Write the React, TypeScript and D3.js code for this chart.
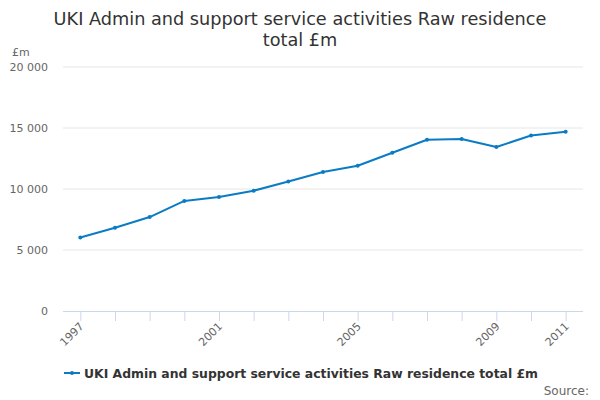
import * as d3 from "d3";

const years = [1997, 1998, 1999, 2000, 2001, 2002, 2003, 2004, 2005, 2006, 2007, 2008, 2009, 2010, 2011];
const values = [6030, 6830, 7700, 9020, 9340, 9860, 10620, 11390, 11910, 12970, 14040, 14100, 13440, 14390, 14700];
const yTicks = [0, 5000, 10000, 15000, 20000];
const labelYears = [1997, 2001, 2005, 2009, 2011];

const seriesName = "UKI Admin and support service activities Raw residence total £m";
const titleLines = ["UKI Admin and support service activities Raw residence", "total £m"];

export default function App() {
  const width = 600;
  const height = 400;
  const left = 63;
  const right = 583;
  const top = 67;
  const bottom = 311;
  const color = "#0b7bc4";
  const font = "'DejaVu Sans', sans-serif";

  const x = d3.scalePoint<number>().domain(years).range([left, right]).padding(0.5);
  const y = d3.scaleLinear().domain([0, 20000]).range([bottom, top]);
  const fmt = (v: number) => d3.format(",")(v).replace(/,/g, " ");

  const line = d3
    .line<number>()
    .x((_, i) => x(years[i]) as number)
    .y((d) => y(d));

  return (
    <svg width={width} height={height} style={{ display: "block", position: "absolute", left: 0, top: 0 }} fontFamily={font}>
      <rect width={width} height={height} fill="#fff" />
      <text x={300} textAnchor="middle" fontSize={17.7} fill="#333">
        <tspan x={300} y={25}>{titleLines[0]}</tspan>
        <tspan x={300} y={46}>{titleLines[1]}</tspan>
      </text>
      <text x={12} y={56} fontSize={11} fill="#666">£m</text>

      {yTicks.map((t) => (
        <g key={t}>
          {t > 0 && <line x1={left} x2={right} y1={y(t)} y2={y(t)} stroke="#e6e6e6" />}
          <text x={48} y={y(t) + 4} textAnchor="end" fontSize={11} fill="#666">
            {fmt(t)}
          </text>
        </g>
      ))}

      <line x1={left} x2={right} y1={bottom + 0.5} y2={bottom + 0.5} stroke="#ccd6eb" />
      {years.map((yr) => (
        <line key={yr} x1={(x(yr) as number) + 0.5} x2={(x(yr) as number) + 0.5} y1={bottom} y2={bottom + 10} stroke="#ccd6eb" />
      ))}
      {labelYears.map((yr) => (
        <text
          key={yr}
          transform={`translate(${(x(yr) as number) + 4},${bottom + 16}) rotate(-45)`}
          textAnchor="end"
          fontSize={11}
          fill="#666"
        >
          {yr}
        </text>
      ))}

      <path d={line(values) || ""} fill="none" stroke={color} strokeWidth={2} strokeLinejoin="round" />
      {values.map((v, i) => (
        <circle key={i} cx={x(years[i]) as number} cy={y(v)} r={2} fill={color} />
      ))}

      <line x1={64} x2={80} y1={373} y2={373} stroke={color} strokeWidth={2} />
      <circle cx={72} cy={373} r={2} fill={color} />
      <text x={84} y={378} fontSize={12.4} fontWeight="bold" fill="#333">{seriesName}</text>
      <text x={589} y={395} textAnchor="end" fontSize={12} fill="#666">Source:</text>
    </svg>
  );
}
